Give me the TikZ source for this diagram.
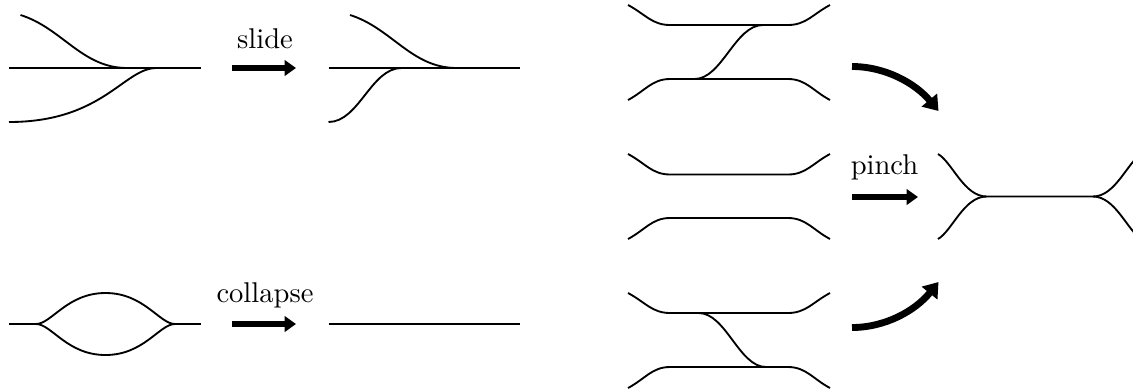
\documentclass[tikz,border=0pt]{standalone}
\usetikzlibrary{arrows.meta}

\begin{document}
\begin{tikzpicture}[
    x=0.0123cm, y=-0.0123cm,
    strand/.style={line width=0.65pt},
    bigarr/.style={line width=2pt, -{Triangle[length=4pt, width=5.4pt]}},
    bendarr/.style={line width=2.4pt, -{Triangle[length=5pt, width=6.8pt]}},
    lbl/.style={inner sep=0pt, anchor=base},
]
\clip (0,0) rectangle (1133,389);

% Slide: before
\draw[strand] (9,68) -- (201,68);
\draw[strand] (20.5,15) .. controls (62,28) and (82,68) .. (127,68);
\draw[strand] (9,122) .. controls (103,122) and (124,68) .. (156.5,68);

% Slide: after
\draw[strand] (328.5,68) -- (520,68);
\draw[strand] (350,15) .. controls (391.5,28) and (411.5,68) .. (456.5,68);
\draw[strand] (328.5,122) .. controls (359,122) and (371,68) .. (401.5,68);

\coordinate (slideA) at (232,68);
\coordinate (slideB) at (296,68);
\draw[bigarr] (slideA) -- (slideB);
\node[lbl] (slidelbl) at (265,48) {slide};

% Collapse: before
\draw[strand] (9,324) -- (36,324);
\draw[strand] (175,324) -- (201,324);
\draw[strand] (36,324) .. controls (51.5,324) and (67,293) .. (105.5,293)
    .. controls (144,293) and (159.5,324) .. (175,324);
\draw[strand] (36,324) .. controls (51.5,324) and (67,355) .. (105.5,355)
    .. controls (144,355) and (159.5,324) .. (175,324);

% Collapse: after
\draw[strand] (328.5,324) -- (520,324);

\coordinate (collA) at (232,324);
\coordinate (collB) at (296,324);
\draw[bigarr] (collA) -- (collB);
\node[lbl] (collapselbl) at (265,302.5) {collapse};

% Pinch: three pairs of strands
\foreach \ya/\yb/\yc/\yd in {5/25/79/100, 154/174.5/218/239, 293/313/367/388} {
  \draw[strand] (628,\ya) .. controls (645,\ya+9) and (652,\yb) .. (670,\yb) -- (788,\yb)
      .. controls (806,\yb) and (813,\ya+9) .. (830,\ya);
  \draw[strand] (628,\yd) .. controls (645,\yd-9) and (652,\yc) .. (670,\yc) -- (788,\yc)
      .. controls (806,\yc) and (813,\yd-9) .. (830,\yd);
}
\draw[strand] (694.5,79) .. controls (722,79) and (735,25) .. (763,25);
\draw[strand] (698.5,313) .. controls (726,313) and (739,367) .. (766,367);

% Pinch: result
\draw[strand] (938,154) .. controls (952,162) and (964,196.5) .. (986.5,196.5) -- (1093,196.5)
    .. controls (1115.5,196.5) and (1127.5,162) .. (1141.5,154);
\draw[strand] (938,239) .. controls (952,231) and (964,196.5) .. (986.5,196.5);
\draw[strand] (1093,196.5) .. controls (1115.5,196.5) and (1127.5,231) .. (1141.5,239);

% Pinch arrows
\coordinate (pinchA) at (852,197);
\coordinate (pinchB) at (918,197);
\draw[bigarr] (pinchA) -- (pinchB);
\node[lbl] (pinchlbl) at (884.5,174.5) {pinch};

\coordinate (topA) at (852,66.5);
\coordinate (topB) at (938.5,111);
\draw[bendarr] (topA) .. controls (885,66.5) and (915,83) .. (topB);

\coordinate (botA) at (852,327.5);
\coordinate (botB) at (938.5,282);
\draw[bendarr] (botA) .. controls (885,327.5) and (915,311) .. (botB);

\end{tikzpicture}
\end{document}
